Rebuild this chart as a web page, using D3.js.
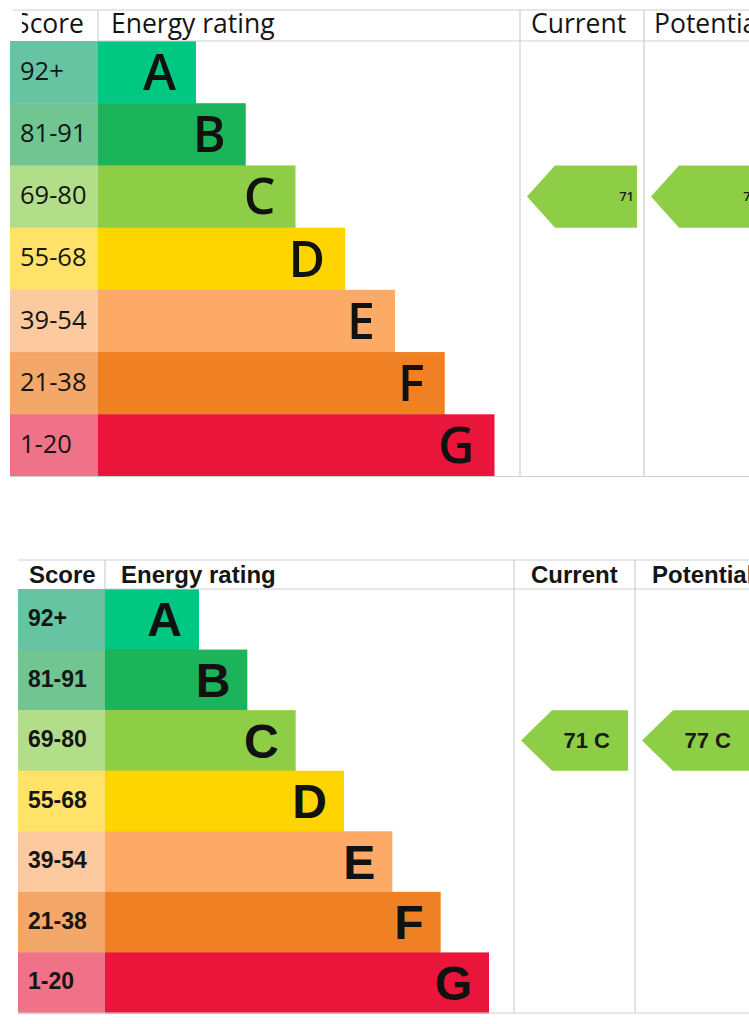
<!DOCTYPE html>
<html>
<head>
<meta charset="utf-8">
<script src="https://cdn.jsdelivr.net/npm/d3@7"></script>
<style>
  html, body { margin: 0; padding: 0; background: #fff; overflow: hidden; }
  svg { display: block; }
</style>
</head>
<body>
<svg id="chart" width="749" height="1024"></svg>
<script>
// ---- Data ----
const bands = ["A", "B", "C", "D", "E", "F", "G"];
const scoreLabels = ["92+", "81-91", "69-80", "55-68", "39-54", "21-38", "1-20"];
const bandMinScores = [92, 81, 69, 55, 39, 21, 1];
const barColors = ["#00c781", "#1cb45a", "#8dce46", "#ffd500", "#fcaa65", "#ef8023", "#e9153b"];
const scoreColors = ["#66c4a2", "#70c591", "#b2dd89", "#fee368", "#fdcaa0", "#f3a86a", "#ef7289"];
const columnHeaders = ["Score", "Energy rating", "Current", "Potential"];
const currentScore = 71;
const potentialScore = 77;

const bandOf = s => bands[bandMinScores.findIndex(m => s >= m)];

const svg = d3.select("#chart");
const defs = svg.append("defs");

function drawChart(cfg) {
  const g = svg.append("g");
  const clipId = "clip" + cfg.id;
  defs.append("clipPath").attr("id", clipId)
    .append("rect").attr("x", cfg.clipLeft).attr("y", 0).attr("width", 800).attr("height", 1024);

  const y = d3.scaleBand().domain(bands).range([cfg.headerBottom, cfg.bottom]);
  const barEnd = d3.scaleLinear().domain([0, bands.length - 1]).range([cfg.barEndFirst, cfg.barEndLast]);
  const idx = d3.scaleOrdinal().domain(bands).range(d3.range(bands.length));

  // score cells
  g.selectAll(".score").data(bands).join("rect")
    .attr("x", cfg.left).attr("y", d => y(d))
    .attr("width", cfg.col1 - cfg.left).attr("height", y.bandwidth() + 0.5)
    .attr("fill", (d, i) => scoreColors[i]);
  // bars
  g.selectAll(".bar").data(bands).join("rect")
    .attr("x", cfg.col1).attr("y", d => y(d))
    .attr("width", d => barEnd(idx(d)) - cfg.col1).attr("height", y.bandwidth() + 0.5)
    .attr("fill", (d, i) => barColors[i]);

  // grid lines
  const line = (x1, y1, x2, y2) => g.append("line").attr("x1", x1).attr("y1", y1).attr("x2", x2).attr("y2", y2)
    .attr("stroke", "#cfcfcf").attr("stroke-width", 1.2);
  line(cfg.lineLeft, cfg.top, 760, cfg.top);
  line(cfg.col1, cfg.headerBottom, 760, cfg.headerBottom);
  line(cfg.left, cfg.bottom, 760, cfg.bottom);
  line(cfg.col1, cfg.top, cfg.col1, cfg.headerBottom);
  line(cfg.col2, cfg.top, cfg.col2, cfg.bottom);
  line(cfg.col3, cfg.top, cfg.col3, cfg.bottom);

  // headers
  const headerX = [cfg.hScoreX, cfg.hEnergyX, cfg.hCurrentX, cfg.hPotentialX];
  g.selectAll(".hdr").data(columnHeaders).join("text")
    .attr("x", (d, i) => headerX[i]).attr("y", cfg.headerBaseline)
    .attr("text-anchor", (d, i) => i === 0 ? cfg.hScoreAnchor : "start")
    .attr("clip-path", (d, i) => i === 0 ? `url(#${clipId})` : null)
    .attr("font-family", cfg.font).attr("font-weight", cfg.headerWeight)
    .attr("font-size", cfg.headerSize).attr("fill", "#151515")
    .text(d => d);

  // score labels
  g.selectAll(".slabel").data(bands).join("text")
    .attr("x", cfg.scoreX)
    .attr("y", d => y(d) + y.bandwidth() / 2 + cfg.scoreSize * 0.357 - 1.5)
    .attr("font-family", cfg.font).attr("font-weight", cfg.scoreWeight)
    .attr("font-size", cfg.scoreSize).attr("fill", "#151515")
    .text((d, i) => scoreLabels[i]);

  // band letters
  g.selectAll(".letter").data(bands).join("text")
    .attr("x", d => barEnd(idx(d)) - cfg.letterPad)
    .attr("y", d => y(d) + y.bandwidth() / 2 + cfg.letterSize * 0.357)
    .attr("text-anchor", "end")
    .attr("font-family", cfg.font).attr("font-weight", cfg.letterWeight)
    .attr("font-size", cfg.letterSize).attr("fill", "#111")
    .text(d => d);

  // arrows
  const arrows = [
    { score: currentScore, colLeft: cfg.col2, colRight: cfg.col3 },
    { score: potentialScore, colLeft: cfg.col3, colRight: cfg.col3 + (cfg.col3 - cfg.col2) }
  ];
  arrows.forEach(a => {
    const band = bandOf(a.score);
    const i = bands.indexOf(band);
    const y0 = y(band), y1 = y(band) + y.bandwidth();
    const tip = a.colLeft + cfg.arrowMargin;
    const right = a.colRight - cfg.arrowMargin;
    const ym = (y0 + y1) / 2;
    const pts = [[tip, ym], [tip + cfg.arrowDepth, y0], [right, y0], [right, y1], [tip + cfg.arrowDepth, y1]];
    g.append("path").attr("d", d3.line()(pts) + "Z").attr("fill", barColors[i]);
    g.append("text")
      .attr("x", right - cfg.arrowTextPad)
      .attr("y", ym + cfg.arrowTextSize * 0.357)
      .attr("text-anchor", "end")
      .attr("font-family", cfg.font).attr("font-weight", cfg.arrowTextWeight)
      .attr("font-size", cfg.arrowTextSize).attr("fill", "#1a1a1a")
      .text(cfg.arrowWithBand ? `${a.score} ${band}` : `${a.score}`);
  });
}

drawChart({
  id: "top", font: "'Open Sans', sans-serif", clipLeft: 22,
  left: 10, lineLeft: 13, top: 10, headerBottom: 41, bottom: 476.5,
  col1: 98, col2: 520, col3: 644,
  barEndFirst: 196, barEndLast: 494.5,
  headerBaseline: 33, headerSize: 26.5, headerWeight: 400,
  hScoreX: 84, hScoreAnchor: "end", hEnergyX: 111, hCurrentX: 531, hPotentialX: 654,
  scoreX: 20, scoreSize: 25.5, scoreWeight: 400,
  letterSize: 50, letterWeight: 600, letterPad: 20,
  arrowMargin: 7, arrowDepth: 28, arrowTextPad: 3, arrowTextSize: 13, arrowTextWeight: 600, arrowWithBand: false
});

drawChart({
  id: "bottom", font: "'Liberation Sans', Arial, sans-serif", clipLeft: 0,
  left: 18, lineLeft: 18, top: 560, headerBottom: 589, bottom: 1013,
  col1: 105, col2: 514, col3: 635,
  barEndFirst: 199, barEndLast: 489,
  headerBaseline: 583, headerSize: 24, headerWeight: 700,
  hScoreX: 29, hScoreAnchor: "start", hEnergyX: 121, hCurrentX: 531, hPotentialX: 652,
  scoreX: 28, scoreSize: 23, scoreWeight: 700,
  letterSize: 48, letterWeight: 700, letterPad: 17,
  arrowMargin: 7, arrowDepth: 31, arrowTextPad: 18, arrowTextSize: 22, arrowTextWeight: 700, arrowWithBand: true
});
</script>
</body>
</html>
